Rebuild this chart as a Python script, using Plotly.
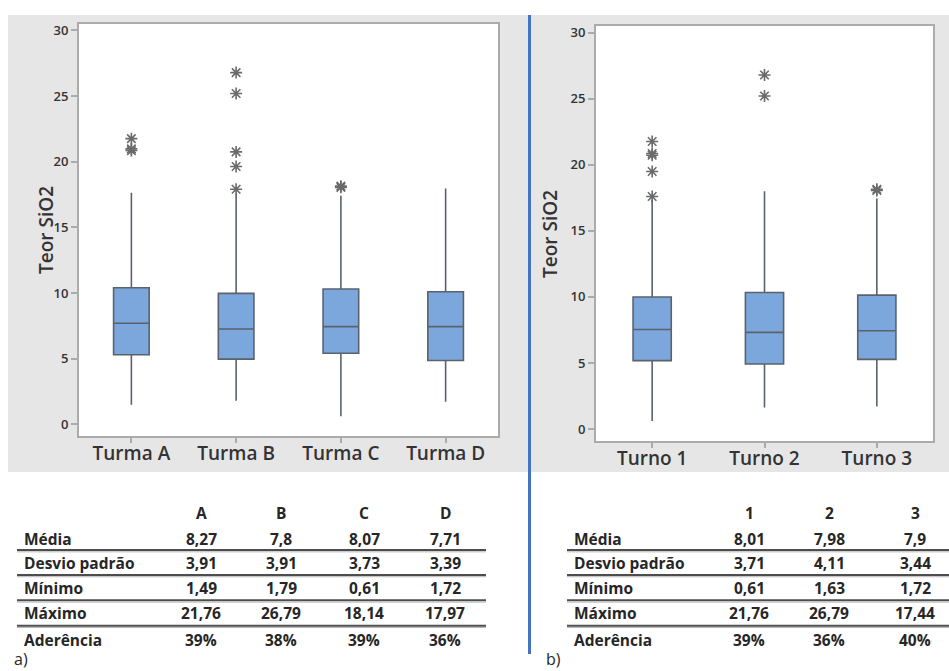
import plotly.graph_objects as go

W, H = 949, 671

# ---- box plot data (Teor SiO2) ----
turmas = ["Turma A", "Turma B", "Turma C", "Turma D"]
turma_q1 = [5.29, 4.96, 5.41, 4.86]
turma_med = [7.70, 7.26, 7.44, 7.44]
turma_q3 = [10.40, 9.97, 10.30, 10.10]
turma_low = [1.49, 1.79, 0.61, 1.72]
turma_high = [17.64, 17.56, 17.40, 17.97]
turma_out = [[21.76, 20.98, 20.85], [26.79, 25.20, 20.75, 19.64, 17.90], [18.14, 18.05], []]

turnos = ["Turno 1", "Turno 2", "Turno 3"]
turno_q1 = [5.18, 4.93, 5.28]
turno_med = [7.54, 7.32, 7.44]
turno_q3 = [10.00, 10.33, 10.14]
turno_low = [0.61, 1.63, 1.72]
turno_high = [17.35, 18.00, 17.44]
turno_out = [[21.76, 20.85, 20.72, 19.49, 17.60], [26.79, 25.20], [18.14, 18.05]]

# ---- summary tables ----
stat_rows = ["Média", "Desvio padrão", "Mínimo", "Máximo", "Aderência"]
tab_a_cols = ["A", "B", "C", "D"]
tab_a_vals = [
    ["8,27", "7,8", "8,07", "7,71"],
    ["3,91", "3,91", "3,73", "3,39"],
    ["1,49", "1,79", "0,61", "1,72"],
    ["21,76", "26,79", "18,14", "17,97"],
    ["39%", "38%", "39%", "36%"],
]
tab_b_cols = ["1", "2", "3"]
tab_b_vals = [
    ["8,01", "7,98", "7,9"],
    ["3,71", "4,11", "3,44"],
    ["0,61", "1,63", "1,72"],
    ["21,76", "26,79", "17,44"],
    ["39%", "36%", "40%"],
]

BOX_FILL = "#7ba7dc"
BOX_LINE = "#5a636d"
STAR = "#6a6a6a"
GRAY_BG = "#e6e6e6"
FRAME = "#ababab"
TXT = "#333333"


def px(x):
    return x / W


def py(y):
    return 1 - y / H


fig = go.Figure()


def add_group(cats, q1, med, q3, lo, hi, outs, xa, ya):
    for i, c in enumerate(cats):
        fig.add_trace(go.Box(
            x=[c], q1=[q1[i]], median=[med[i]], q3=[q3[i]],
            lowerfence=[lo[i]], upperfence=[hi[i]],
            boxpoints=False, width=0.34, whiskerwidth=0,
            fillcolor=BOX_FILL, line=dict(color=BOX_LINE, width=1.6),
            xaxis=xa, yaxis=ya, showlegend=False, hoverinfo="skip",
        ))
        if outs[i]:
            fig.add_trace(go.Scatter(
                x=[c] * len(outs[i]), y=outs[i], mode="markers",
                marker=dict(symbol="asterisk-open", size=10, color=STAR,
                            line=dict(color=STAR, width=1.6)),
                xaxis=xa, yaxis=ya, showlegend=False, hoverinfo="skip",
            ))


add_group(turmas, turma_q1, turma_med, turma_q3, turma_low, turma_high, turma_out, "x", "y")
add_group(turnos, turno_q1, turno_med, turno_q3, turno_low, turno_high, turno_out, "x2", "y2")

xcommon = dict(showgrid=False, zeroline=False, showline=True, mirror=True,
               linecolor=FRAME, linewidth=2, ticks="outside", ticklen=5,
               tickcolor=FRAME, tickwidth=1.5, ticklabelstandoff=-6,
               tickfont=dict(family="Open Sans", size=19, color=TXT, weight=600))
ycommon = dict(showgrid=False, zeroline=False, showline=True, mirror=True,
               linecolor=FRAME, linewidth=2, ticks="outside", ticklen=6,
               tickcolor=FRAME, tickwidth=1.5, range=[-0.9, 30.5],
               tickvals=[0, 5, 10, 15, 20, 25, 30],
               tickfont=dict(family="Open Sans", size=13, color=TXT, weight=600))

fig.update_layout(
    width=W, height=H, margin=dict(l=0, r=0, t=0, b=0),
    paper_bgcolor="white", plot_bgcolor="white",
    xaxis=dict(domain=[px(79), px(498)], anchor="y", range=[-0.5, 3.5], **xcommon),
    yaxis=dict(domain=[py(435), py(21)], anchor="x", **ycommon),
    xaxis2=dict(domain=[px(596), px(933)], anchor="y2", range=[-0.5, 2.5], **xcommon),
    yaxis2=dict(domain=[py(440), py(23)], anchor="x2", **ycommon),
)

shapes = [
    # panel backgrounds
    dict(type="rect", xref="paper", yref="paper", x0=px(8), x1=px(528), y0=py(471), y1=py(12),
         fillcolor=GRAY_BG, line=dict(width=0), layer="below"),
    dict(type="rect", xref="paper", yref="paper", x0=px(531), x1=1, y0=py(471), y1=py(12),
         fillcolor=GRAY_BG, line=dict(width=0), layer="below"),
    # white plotting areas
    dict(type="rect", xref="x domain", yref="y domain", x0=0, x1=1, y0=0, y1=1,
         fillcolor="white", line=dict(width=0), layer="below"),
    dict(type="rect", xref="x2 domain", yref="y2 domain", x0=0, x1=1, y0=0, y1=1,
         fillcolor="white", line=dict(width=0), layer="below"),
    # separator
    dict(type="line", xref="paper", yref="paper", x0=px(529.5), x1=px(529.5), y0=py(654), y1=py(12),
         line=dict(color="#4472c4", width=3)),
]

annotations = [
    dict(text="Teor SiO2", textangle=-90, x=px(31), y=py(228), xref="paper", yref="paper",
         showarrow=False, font=dict(family="Open Sans", size=19, color=TXT, weight=600)),
    dict(text="Teor SiO2", textangle=-90, x=px(550), y=py(232), xref="paper", yref="paper",
         showarrow=False, font=dict(family="Open Sans", size=19, color=TXT, weight=600)),
]

TFONT = dict(family="Open Sans", size=15.5, color="#262626", weight=700)
head_y = 512
row_y = [538, 563, 588, 613, 640]
line_y = [549.5, 574.5, 600, 625.5]


def add_table(label_x, col_x, cols, vals, lx0, lx1, tag, tag_x):
    for cx, c in zip(col_x, cols):
        annotations.append(dict(text=c, x=px(cx), y=py(head_y), xref="paper", yref="paper",
                                showarrow=False, xanchor="center", yanchor="middle", font=TFONT))
    for r, name in enumerate(stat_rows):
        annotations.append(dict(text=name, x=px(label_x), y=py(row_y[r]), xref="paper", yref="paper",
                                showarrow=False, xanchor="left", yanchor="middle", font=TFONT))
        for cx, v in zip(col_x, vals[r]):
            annotations.append(dict(text=v, x=px(cx), y=py(row_y[r]), xref="paper", yref="paper",
                                    showarrow=False, xanchor="center", yanchor="middle", font=TFONT))
    for ly in line_y:
        shapes.append(dict(type="line", xref="paper", yref="paper", x0=px(lx0), x1=px(lx1),
                           y0=py(ly), y1=py(ly), line=dict(color="#4d4d4d", width=2)))
        shapes.append(dict(type="line", xref="paper", yref="paper", x0=px(lx0), x1=px(lx1),
                           y0=py(ly + 1.8), y1=py(ly + 1.8), line=dict(color="#b5b5b5", width=1)))
    annotations.append(dict(text=tag, x=px(tag_x), y=py(659), xref="paper", yref="paper",
                            showarrow=False, xanchor="left", yanchor="middle",
                            font=dict(family="Open Sans", size=16, color="#262626")))


add_table(22, [201, 281, 364, 445], tab_a_cols, tab_a_vals, 17, 486, "a)", 12)
add_table(572, [749, 829, 915], tab_b_cols, tab_b_vals, 567, 949, "b)", 544)

fig.update_layout(shapes=shapes, annotations=annotations)

fig.write_html("out.html")
